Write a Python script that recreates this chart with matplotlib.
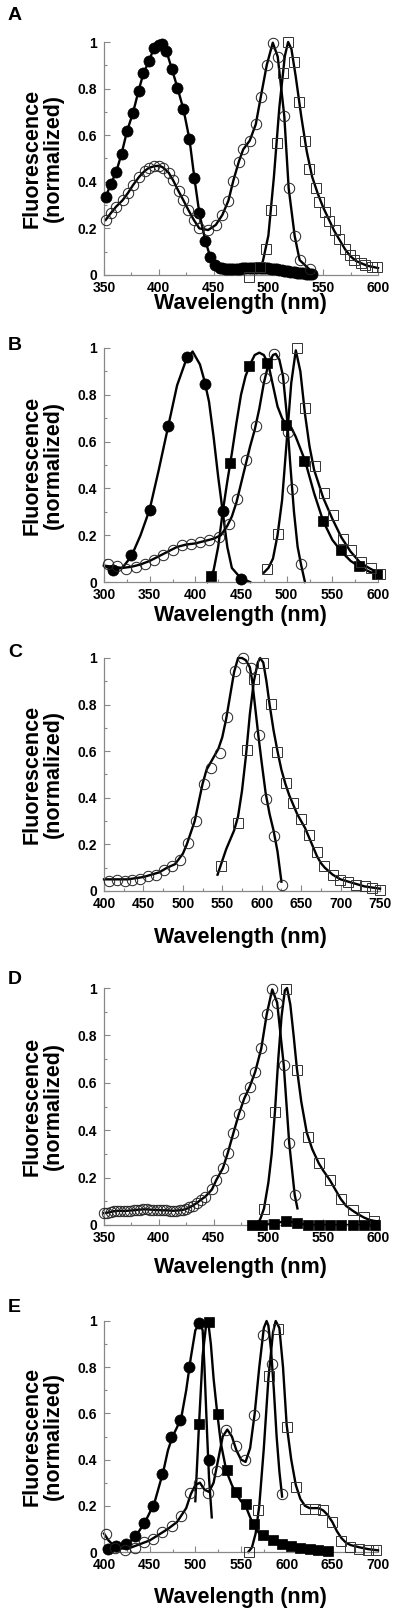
import matplotlib
matplotlib.use('Agg')
import matplotlib.pyplot as plt
from matplotlib.ticker import MultipleLocator, FuncFormatter

plt.rcParams['font.family'] = ['Liberation Sans', 'DejaVu Sans']
plt.rcParams['font.weight'] = 'bold'

# ---------------- Panel A ----------------
a_fc_x = [351.5, 356, 361, 366, 371, 376.5, 381.5, 386, 391, 395.5, 400, 403, 407, 412, 417,
          422.5, 428, 432.5, 437, 442.5, 447, 451.5, 456,
          458, 460, 462, 464, 466, 468, 470, 472, 474, 476, 478, 480, 482, 484, 486, 488, 490,
          492, 494, 496, 498, 500, 502, 504, 506, 508, 510, 512, 514, 516, 518, 520, 522, 524,
          526, 528, 530, 532, 534, 536, 538, 540]
a_fc_y = [0.333, 0.389, 0.44, 0.52, 0.617, 0.697, 0.79, 0.866, 0.917, 0.974, 0.989, 0.993, 0.96,
          0.883, 0.804, 0.711, 0.582, 0.415, 0.265, 0.147, 0.076, 0.043, 0.031,
          0.029, 0.027, 0.026, 0.025, 0.025, 0.025, 0.026, 0.027, 0.027, 0.028, 0.028, 0.029,
          0.029, 0.03, 0.03, 0.03, 0.03, 0.03, 0.029, 0.029, 0.028, 0.028, 0.027, 0.026, 0.025,
          0.024, 0.022, 0.021, 0.019, 0.018, 0.016, 0.015, 0.013, 0.012, 0.01, 0.009, 0.008,
          0.007, 0.006, 0.005, 0.004, 0.003]

a_oc_x = [351.5, 356, 361, 367, 372, 376.5, 382, 387, 391, 396, 400.5, 404, 409, 413, 418,
          422.5, 427, 432, 437, 445, 452, 458, 463.5, 468, 473, 477, 483, 488.5, 493, 498.5,
          504, 508.5, 514.5, 518.5, 524, 528.5, 537.5]
a_oc_y = [0.236, 0.264, 0.293, 0.321, 0.353, 0.386, 0.421, 0.446, 0.46, 0.467, 0.469, 0.461,
          0.439, 0.407, 0.36, 0.32, 0.279, 0.236, 0.2, 0.193, 0.215, 0.258, 0.319, 0.405, 0.486,
          0.539, 0.577, 0.647, 0.763, 0.901, 0.997, 0.937, 0.682, 0.372, 0.167, 0.064, 0.024]

a_os_x = [482, 492, 497.5, 502.5, 508, 513.5, 518, 523.5, 528, 533.5, 537, 543, 546.5, 551.5,
          555.5, 560.5, 564.5, 570, 574, 578.5, 584.5, 588.5, 594.5, 599.5]
a_os_y = [-0.007, 0.035, 0.11, 0.279, 0.565, 0.868, 1.0, 0.916, 0.744, 0.575, 0.454, 0.375,
          0.315, 0.272, 0.233, 0.193, 0.153, 0.11, 0.086, 0.064, 0.05, 0.043, 0.036, 0.033]
a_os_cx = [492, 495, 500, 505, 510, 515, 518, 521, 525, 530, 535, 540, 545, 550, 555, 560,
           565, 570, 575, 580, 590, 600]
a_os_cy = [0.03, 0.06, 0.17, 0.42, 0.72, 0.94, 1.0, 0.97, 0.85, 0.68, 0.53, 0.42, 0.35, 0.29,
           0.24, 0.19, 0.15, 0.11, 0.08, 0.06, 0.04, 0.03]

# ---------------- Panel B ----------------
b_fc_x = [310, 330, 350, 370.5, 391, 411, 430, 450]
b_fc_y = [0.053, 0.114, 0.306, 0.665, 0.96, 0.848, 0.302, 0.014]
b_fc_cx = [300, 305, 310, 320, 330, 340, 350, 360, 370, 380, 390, 397, 405, 410, 415, 420,
           425, 430, 435, 440, 450, 460]
b_fc_cy = [0.07, 0.06, 0.055, 0.06, 0.11, 0.2, 0.31, 0.48, 0.66, 0.84, 0.95, 0.985, 0.93,
           0.86, 0.77, 0.62, 0.45, 0.3, 0.15, 0.06, 0.015, 0.0]

b_oc_x = [304.5, 314, 324.5, 335, 345, 354.5, 365, 375, 385, 395, 405, 415, 425.5, 436.5, 446,
          456, 466, 476, 486, 496.5, 501.5, 505.5, 516]
b_oc_y = [0.075, 0.067, 0.057, 0.064, 0.078, 0.093, 0.114, 0.135, 0.157, 0.164, 0.171, 0.178,
          0.192, 0.249, 0.353, 0.52, 0.665, 0.873, 0.976, 0.873, 0.641, 0.399, 0.078]
b_oc_cx = [300, 310, 320, 330, 340, 350, 360, 370, 380, 390, 400, 410, 420, 428, 435, 440,
           445, 450, 455, 460, 465, 470, 475, 480, 485, 488, 492, 496, 500, 504, 508, 512, 516,
           520]
b_oc_cy = [0.07, 0.065, 0.06, 0.065, 0.075, 0.09, 0.11, 0.13, 0.15, 0.16, 0.165, 0.175, 0.185,
           0.2, 0.24, 0.28, 0.34, 0.42, 0.5, 0.58, 0.65, 0.74, 0.85, 0.93, 0.97, 0.975, 0.95,
           0.88, 0.72, 0.5, 0.3, 0.15, 0.07, 0.0]

b_fs_x = [417, 438.5, 458.5, 478, 499, 519, 539.5, 559.5, 579, 599]
b_fs_y = [0.024, 0.509, 0.922, 0.936, 0.67, 0.517, 0.259, 0.135, 0.067, 0.033]
b_fs_cx = [413, 420, 425, 430, 435, 440, 445, 450, 455, 460, 465, 470, 475, 480, 485, 490,
           495, 500, 505, 510, 515, 520, 530, 540, 550, 560, 570, 580, 590, 600]
b_fs_cy = [0.0, 0.05, 0.15, 0.3, 0.43, 0.55, 0.68, 0.8, 0.88, 0.93, 0.97, 0.98, 0.97, 0.93,
           0.84, 0.75, 0.7, 0.67, 0.66, 0.62, 0.57, 0.52, 0.38, 0.26, 0.18, 0.13, 0.09, 0.065,
           0.045, 0.03]

b_os_x = [478, 490, 511, 520, 531, 541, 551, 561.5, 570.5, 581.5, 592, 602]
b_os_y = [0.057, 0.204, 1.0, 0.745, 0.496, 0.38, 0.285, 0.185, 0.135, 0.085, 0.061, 0.036]
b_os_cx = [475, 480, 485, 490, 495, 500, 505, 510, 515, 520, 525, 530, 540, 550, 560, 570,
           580, 590, 600]
b_os_cy = [0.04, 0.06, 0.1, 0.2, 0.35, 0.6, 0.85, 0.99, 0.9, 0.72, 0.58, 0.48, 0.36, 0.27,
           0.19, 0.13, 0.085, 0.06, 0.04]

# ---------------- Panel C ----------------
c_oc_x = [406, 416, 426, 436, 445.5, 455.5, 465.5, 476, 486.5, 497, 507, 517, 526.5, 536,
          547, 556, 566.5, 576.5, 586.5, 596, 606, 616, 625.5]
c_oc_y = [0.043, 0.046, 0.043, 0.049, 0.053, 0.063, 0.07, 0.089, 0.106, 0.135, 0.207, 0.301,
          0.459, 0.527, 0.594, 0.746, 0.943, 1.0, 0.957, 0.67, 0.393, 0.237, 0.024]
c_oc_cx = [400, 410, 420, 430, 440, 450, 460, 470, 480, 490, 500, 505, 510, 515, 520, 525,
           530, 535, 540, 545, 550, 555, 560, 565, 570, 575, 580, 585, 588, 592, 596, 600,
           605, 610, 615, 620, 625]
c_oc_cy = [0.05, 0.05, 0.05, 0.05, 0.055, 0.06, 0.07, 0.08, 0.1, 0.115, 0.16, 0.2, 0.25, 0.3,
           0.38, 0.46, 0.52, 0.55, 0.58, 0.61, 0.66, 0.74, 0.84, 0.94, 1.0, 1.0, 0.99, 0.96,
           0.9, 0.78, 0.66, 0.55, 0.42, 0.33, 0.26, 0.17, 0.04]

c_os_x = [548.5, 570, 581.5, 590.5, 601, 612, 620, 631, 640, 650, 660, 670, 679.5, 690,
          699.5, 710, 720, 730.5, 740, 750]
c_os_y = [0.106, 0.29, 0.605, 0.91, 0.978, 0.803, 0.598, 0.462, 0.376, 0.311, 0.24, 0.168,
          0.106, 0.07, 0.049, 0.039, 0.027, 0.02, 0.014, 0.003]
c_os_cx = [544, 548, 555, 560, 565, 570, 575, 580, 585, 590, 595, 598, 602, 606, 610, 615,
           620, 625, 630, 635, 640, 645, 650, 655, 660, 665, 670, 675, 680, 690, 700, 710, 720,
           730, 740, 750]
c_os_cy = [0.07, 0.11, 0.18, 0.22, 0.26, 0.32, 0.43, 0.58, 0.76, 0.9, 0.98, 1.0, 0.98, 0.9,
           0.8, 0.69, 0.6, 0.52, 0.46, 0.41, 0.37, 0.33, 0.3, 0.27, 0.23, 0.19, 0.15, 0.12, 0.1,
           0.07, 0.05, 0.04, 0.03, 0.02, 0.015, 0.01]

# ---------------- Panel D ----------------
d_oc_x = [350, 353, 356, 359, 362, 365, 368, 371, 374, 377, 380, 383, 386, 389, 392, 395, 398,
          401, 404, 407, 410, 413, 416, 419, 422, 425, 428, 431, 435, 438.5, 442.5, 448.5,
          452.5, 458.5, 463, 468, 473, 478, 483, 488, 493.5, 498.5, 503.5, 508, 514, 519, 524]
d_oc_y = [0.05, 0.052, 0.055, 0.058, 0.06, 0.06, 0.059, 0.06, 0.061, 0.062, 0.064, 0.065,
          0.066, 0.066, 0.065, 0.064, 0.063, 0.063, 0.062, 0.062, 0.061, 0.06, 0.061, 0.062,
          0.064, 0.068, 0.074, 0.082, 0.094, 0.107, 0.12, 0.15, 0.19, 0.24, 0.305, 0.387,
          0.467, 0.534, 0.584, 0.647, 0.745, 0.89, 0.994, 0.938, 0.675, 0.345, 0.127]

d_os_x = [496, 506, 516.5, 526.5, 536, 546.5, 556.5, 566, 577, 587, 596.5]
d_os_y = [0.066, 0.478, 0.994, 0.654, 0.373, 0.26, 0.19, 0.108, 0.063, 0.032, 0.018]
d_os_cx = [490, 493, 496, 500, 503, 506, 509, 512, 515, 517, 520, 523, 526, 530, 535, 540,
           546, 550, 556, 561, 566, 571, 577, 582, 587, 592, 597, 600]
d_os_cy = [0.0, 0.03, 0.07, 0.18, 0.3, 0.48, 0.7, 0.88, 0.99, 1.0, 0.93, 0.8, 0.66, 0.52,
           0.39, 0.32, 0.26, 0.23, 0.19, 0.15, 0.11, 0.08, 0.06, 0.045, 0.032, 0.022, 0.017,
           0.015]

d_fs_x = [485, 494, 505, 516, 526.5, 536, 546.5, 556.5, 566, 577, 587, 597]
d_fs_y = [0.0, 0.0, 0.005, 0.018, 0.007, 0.0, 0.0, 0.0, 0.0, 0.0, 0.0, 0.0]

# ---------------- Panel E ----------------
e_fc_x = [404.5, 413.5, 424, 434, 443.5, 454, 464, 473.5, 483.5, 493.5, 503.5, 514.5]
e_fc_y = [0.014, 0.025, 0.033, 0.068, 0.126, 0.198, 0.336, 0.498, 0.57, 0.8, 0.99, 0.397]
e_fc_cx = [400, 405, 410, 420, 430, 435, 440, 445, 450, 455, 460, 465, 470, 475, 480, 485,
           490, 495, 500, 505, 508, 510, 513, 515, 518]
e_fc_cy = [0.015, 0.015, 0.02, 0.03, 0.05, 0.07, 0.1, 0.13, 0.17, 0.21, 0.28, 0.35, 0.44, 0.5,
           0.54, 0.59, 0.7, 0.84, 0.96, 0.99, 0.96, 0.8, 0.5, 0.32, 0.15]

e_fs_x = [504.5, 514.5, 524.5, 535, 544.5, 555, 564, 574, 584.5, 594.5, 604.5, 614.5, 625,
          634.5, 645]
e_fs_y = [0.553, 0.996, 0.599, 0.354, 0.26, 0.206, 0.12, 0.072, 0.05, 0.036, 0.025, 0.019,
          0.014, 0.01, 0.004]
e_fs_cx = [500, 504, 508, 512, 514, 517, 520, 524, 528, 534, 540, 545, 550, 555, 560, 565,
           570, 575, 585, 595, 605, 615, 625, 635, 645]
e_fs_cy = [0.22, 0.55, 0.85, 0.99, 1.0, 0.9, 0.75, 0.6, 0.47, 0.35, 0.29, 0.25, 0.22, 0.2,
           0.15, 0.11, 0.08, 0.07, 0.05, 0.035, 0.025, 0.019, 0.014, 0.01, 0.004]

e_oc_x = [402, 412, 423, 434, 443.5, 454, 464, 474, 484.5, 494.5, 504.5, 514, 524, 533.5,
          544, 554, 564, 574, 583.5, 594.5]
e_oc_y = [0.076, 0.019, 0.007, 0.019, 0.043, 0.058, 0.087, 0.111, 0.154, 0.255, 0.299, 0.255,
          0.351, 0.53, 0.457, 0.4, 0.592, 0.938, 0.815, 0.253]
e_oc_cx = [400, 405, 410, 420, 430, 440, 450, 460, 470, 480, 490, 495, 500, 505, 510, 515,
           520, 525, 530, 535, 540, 545, 550, 555, 560, 565, 570, 575, 578, 580, 583, 586, 589,
           592, 595]
e_oc_cy = [0.08, 0.05, 0.03, 0.015, 0.02, 0.035, 0.05, 0.075, 0.1, 0.13, 0.19, 0.25, 0.29,
           0.3, 0.27, 0.26, 0.3, 0.4, 0.5, 0.53, 0.5, 0.44, 0.4, 0.39, 0.45, 0.6, 0.8, 0.97,
           1.0, 0.98, 0.87, 0.7, 0.5, 0.35, 0.24]

e_os_x = [558.5, 569, 580.5, 590.5, 600, 610, 620, 630.5, 639.5, 649.5, 659.5, 669, 679, 689,
          698]
e_os_y = [0.0, 0.18, 0.76, 0.967, 0.541, 0.281, 0.188, 0.188, 0.18, 0.13, 0.046, 0.022, 0.014,
          0.01, 0.007]
e_os_cx = [558, 562, 566, 570, 575, 580, 585, 588, 592, 596, 600, 605, 610, 615, 620, 625,
           630, 635, 640, 645, 650, 655, 660, 665, 670, 680, 690, 700]
e_os_cy = [0.0, 0.02, 0.08, 0.2, 0.45, 0.75, 0.95, 1.0, 0.97, 0.8, 0.55, 0.4, 0.29, 0.23,
           0.2, 0.19, 0.19, 0.19, 0.18, 0.16, 0.13, 0.09, 0.06, 0.04, 0.03, 0.02, 0.012, 0.007]

W, H = 400.0, 1614.0
fig = plt.figure(figsize=(W / 100, H / 100), dpi=100)

# marker styles
OC = dict(marker='o', ms=7.5, mfc='none', mec='#222222', mew=0.7, ls='none')
FC = dict(marker='o', ms=8, mfc='black', mec='black', mew=0.5, ls='none')
OS = dict(marker='s', ms=7, mfc='none', mec='#333333', mew=0.7, ls='none')
FS = dict(marker='s', ms=7.5, mfc='black', mec='black', mew=0.5, ls='none')


def make_axes(top, bottom, xmin, xmax, letter, letter_y, xlabel_y, right=378):
    ax = fig.add_axes([104 / W, 1 - bottom / H, (right - 104) / W, (bottom - top) / H])
    ax.set_xlim(xmin, xmax)
    ax.set_ylim(0, 1)
    for s in ['top', 'right']:
        ax.spines[s].set_visible(False)
    for s in ['left', 'bottom']:
        ax.spines[s].set_color('#888888')
        ax.spines[s].set_linewidth(0.9)
    ax.xaxis.set_major_locator(MultipleLocator(50))
    ax.xaxis.set_minor_locator(MultipleLocator(25))
    ax.yaxis.set_major_locator(MultipleLocator(0.2))
    ax.yaxis.set_minor_locator(MultipleLocator(0.1))
    ax.yaxis.set_major_formatter(FuncFormatter(lambda v, p: '%g' % round(v, 1)))
    ax.tick_params(which='both', direction='in', color='#888888', width=0.8, labelsize=10)
    ax.tick_params(which='major', length=4)
    ax.tick_params(which='minor', length=2.5)
    ax.tick_params(axis='y', pad=5)
    ax.tick_params(axis='x', pad=4.5)
    for lab in ax.get_xticklabels() + ax.get_yticklabels():
        lab.set_fontweight('bold')
    yc = 1 - (top + bottom) / 2 / H
    fig.text(32 / W, yc, 'Fluorescence', rotation=90, ha='center', va='center',
             fontsize=15.5, fontweight='bold')
    fig.text(53 / W, yc, '(normalized)', rotation=90, ha='center', va='center',
             fontsize=15.5, fontweight='bold')
    fig.text(240 / W, 1 - xlabel_y / H, 'Wavelength (nm)', ha='center', va='center',
             fontsize=15.5, fontweight='bold')
    fig.text(8 / W, 1 - letter_y / H, letter, ha='left', va='center', fontsize=14,
             fontweight='bold')
    return ax


def curve(ax, x, y):
    ax.plot(x, y, color='black', lw=1.7, clip_on=False, zorder=2)


def pts(ax, x, y, style):
    ax.plot(x, y, clip_on=False, zorder=3, **style)


# A
ax = make_axes(42, 275, 350, 600, 'A', 15, 304)
curve(ax, a_fc_x, a_fc_y)
curve(ax, a_oc_x, a_oc_y)
curve(ax, a_os_cx, a_os_cy)
pts(ax, a_fc_x, a_fc_y, FC)
pts(ax, a_oc_x, a_oc_y, OC)
pts(ax, a_os_x, a_os_y, OS)

# B
ax = make_axes(348, 582, 300, 600, 'B', 345, 616)
curve(ax, b_fc_cx, b_fc_cy)
curve(ax, b_oc_cx, b_oc_cy)
curve(ax, b_fs_cx, b_fs_cy)
curve(ax, b_os_cx, b_os_cy)
pts(ax, b_fc_x, b_fc_y, FC)
pts(ax, b_oc_x, b_oc_y, OC)
pts(ax, b_fs_x, b_fs_y, FS)
pts(ax, b_os_x, b_os_y, OS)

# C
ax = make_axes(658, 891, 400, 750, 'C', 652, 937, right=380)
curve(ax, c_oc_cx, c_oc_cy)
curve(ax, c_os_cx, c_os_cy)
pts(ax, c_oc_x, c_oc_y, OC)
pts(ax, c_os_x, c_os_y, OS)

# D
ax = make_axes(988, 1225, 350, 600, 'D', 980, 1267)
curve(ax, d_oc_x + [526.5], d_oc_y + [0.07])
curve(ax, d_os_cx, d_os_cy)
curve(ax, d_fs_x, d_fs_y)
pts(ax, d_oc_x, d_oc_y, OC)
pts(ax, d_os_x, d_os_y, OS)
pts(ax, d_fs_x, d_fs_y, FS)

# E
ax = make_axes(1321, 1552, 400, 700, 'E', 1307, 1597)
curve(ax, e_fc_cx, e_fc_cy)
curve(ax, e_fs_cx, e_fs_cy)
curve(ax, e_oc_cx, e_oc_cy)
curve(ax, e_os_cx, e_os_cy)
pts(ax, e_fc_x, e_fc_y, FC)
pts(ax, e_fs_x, e_fs_y, FS)
pts(ax, e_oc_x, e_oc_y, OC)
pts(ax, e_os_x, e_os_y, OS)

fig.savefig('out.png', dpi=100)
